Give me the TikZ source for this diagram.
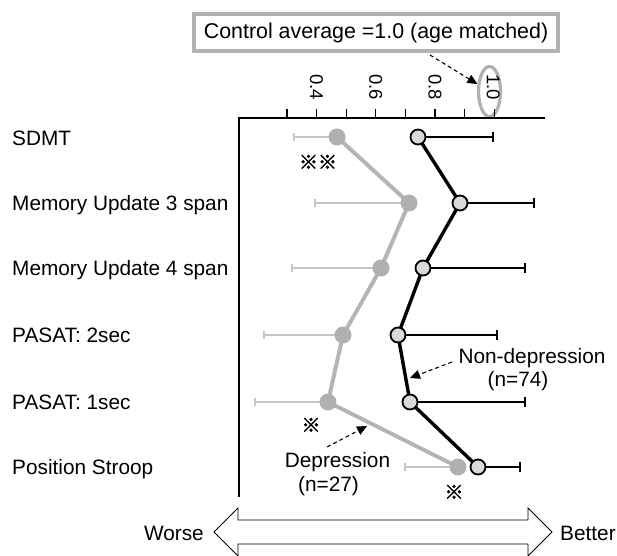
\documentclass[tikz,border=0pt]{standalone}
\usepackage{fontspec}
\setmainfont{Liberation Sans}
\newfontfamily\cjkfont[FakeBold=2.5]{Noto Sans CJK JP}
\usetikzlibrary{arrows.meta,shapes.geometric}
\begin{document}
\begin{tikzpicture}[x=1pt,y=1pt,
  txt/.style={font=\fontsize{20.8}{24}\selectfont, inner sep=0pt},
  rowlab/.style={txt, anchor=base west},
  ticklab/.style={font=\fontsize{18.5}{20}\selectfont, rotate=-90, anchor=east, inner sep=0pt},
  refmark/.style={font=\cjkfont\fontsize{19}{22}\selectfont, inner sep=0pt},
  ctrlbox/.style={draw=gray!60, line width=4pt, minimum width=364pt, minimum height=37pt, inner sep=0pt, font=\fontsize{21.4}{24}\selectfont},
  callout/.style={line width=1.1pt, dash pattern=on 4pt off 3pt, -{Triangle[length=10pt,width=9pt]}},
  axisline/.style={line width=1.1pt},
  ndot/.style={circle, draw=black, line width=1.8pt, fill=gray!30, minimum size=15pt, inner sep=0pt},
  ddot/.style={circle, fill=gray!62, minimum size=17pt, inner sep=0pt},
  nline/.style={line width=3.4pt, black},
  dline/.style={line width=4pt, gray!58},
  nbar/.style={line width=1.8pt, -{Bar[width=10pt,line width=1.8pt]}},
  dbar/.style={line width=2pt, gray!45, -{Bar[width=8pt,line width=1.5pt]}},
  scalearrow/.style={draw=black, line width=0.9pt, fill=white}
]
\useasboundingbox (0,0) rectangle (617,-555);

% header box and the circled reference value
\node[ctrlbox] (ctrl) at (376,-32.5) {Control average =1.0 (age matched)};
\node[ellipse, draw=gray!62, line width=3.2pt, minimum width=22pt, minimum height=50pt, inner sep=0pt] (one) at (489.5,-91.5) {};
\coordinate (ctrltail) at (430,-55);
\draw[callout] (ctrltail) -- (one);

% axes
\coordinate (ax0) at (239,-118);
\coordinate (ax1) at (545,-118);
\coordinate (ay1) at (239,-497);
\draw[axisline] (ax1) -- (ax0) -- (ay1);
\foreach \k in {0,...,7}{
  \draw[axisline] (287+29.6*\k,-118) -- (287+29.6*\k,-109);
}
\node[ticklab] (t4) at (316.6,-100) {0.4};
\node[ticklab] (t6) at (375.8,-100) {0.6};
\node[ticklab] (t8) at (435,-100) {0.8};
\node[ticklab] (t10) at (493.2,-100) {1.0};

% row labels
\node[rowlab] (r1) at (12,-145) {SDMT};
\node[rowlab] (r2) at (12,-210.5) {Memory Update 3 span};
\node[rowlab] (r3) at (12,-275.5) {Memory Update 4 span};
\node[rowlab] (r4) at (12,-342.5) {PASAT: 2sec};
\node[rowlab] (r5) at (12,-409.5) {PASAT: 1sec};
\node[rowlab] (r6) at (12,-474.5) {Position Stroop};

% error bar ends
\coordinate (ne1) at (494,-137);
\coordinate (ne2) at (535,-203);
\coordinate (ne3) at (526,-268);
\coordinate (ne4) at (498,-335);
\coordinate (ne5) at (526,-402);
\coordinate (ne6) at (521,-467);
\coordinate (de1) at (293,-137);
\coordinate (de2) at (314,-203);
\coordinate (de3) at (291,-268);
\coordinate (de4) at (263,-335);
\coordinate (de5) at (254,-402);
\coordinate (de6) at (404,-467);

% means
\coordinate (nc1) at (418,-137);
\coordinate (nc2) at (460,-203);
\coordinate (nc3) at (423,-268);
\coordinate (nc4) at (398,-335);
\coordinate (nc5) at (410,-402);
\coordinate (nc6) at (478,-467);
\coordinate (dc1) at (337,-137);
\coordinate (dc2) at (409,-203);
\coordinate (dc3) at (381,-268);
\coordinate (dc4) at (343,-335);
\coordinate (dc5) at (328,-402);
\coordinate (dc6) at (458,-467);

\foreach \i in {1,...,6}{
  \draw[dbar] (dc\i) -- (de\i);
  \draw[nbar] (nc\i) -- (ne\i);
}
\draw[dline, line join=round] (dc1) -- (dc2) -- (dc3) -- (dc4) -- (dc5) -- (dc6);
\draw[nline, line join=round] (nc1) -- (nc2) -- (nc3) -- (nc4) -- (nc5) -- (nc6);
\foreach \i in {1,...,6}{
  \node[ddot] (d\i) at (dc\i) {};
  \node[ndot] (n\i) at (nc\i) {};
}

% significance marks
\node[refmark] (s1) at (318,-162) {※※};
\node[refmark] (s2) at (311,-425) {※};
\node[refmark] (s3) at (454,-492) {※};

% group labels
\node[txt, anchor=base] (nlab) at (532,-363) {Non-depression};
\node[txt, anchor=base] (nlab2) at (518,-386) {(n=74)};
\coordinate (ntail) at (452,-362);
\coordinate (nhead) at (410,-378);
\draw[callout] (ntail) -- (nhead);

\node[txt, anchor=base] (dlab) at (337.5,-467) {Depression};
\node[txt, anchor=base] (dlab2) at (328.5,-491) {(n=27)};
\coordinate (dtail) at (327,-447);
\coordinate (dhead) at (367,-426);
\draw[callout] (dtail) -- (dhead);

% worse / better scale
\draw[scalearrow] (214,-532) -- (238,-508) -- (238,-520) -- (528,-520) -- (528,-508)
  -- (552,-532) -- (528,-556) -- (528,-544) -- (238,-544) -- (238,-556) -- cycle;
\node[txt, anchor=east] (worse) at (204,-533) {Worse};
\node[txt, anchor=west] (better) at (560,-533) {Better};
\end{tikzpicture}
\end{document}
